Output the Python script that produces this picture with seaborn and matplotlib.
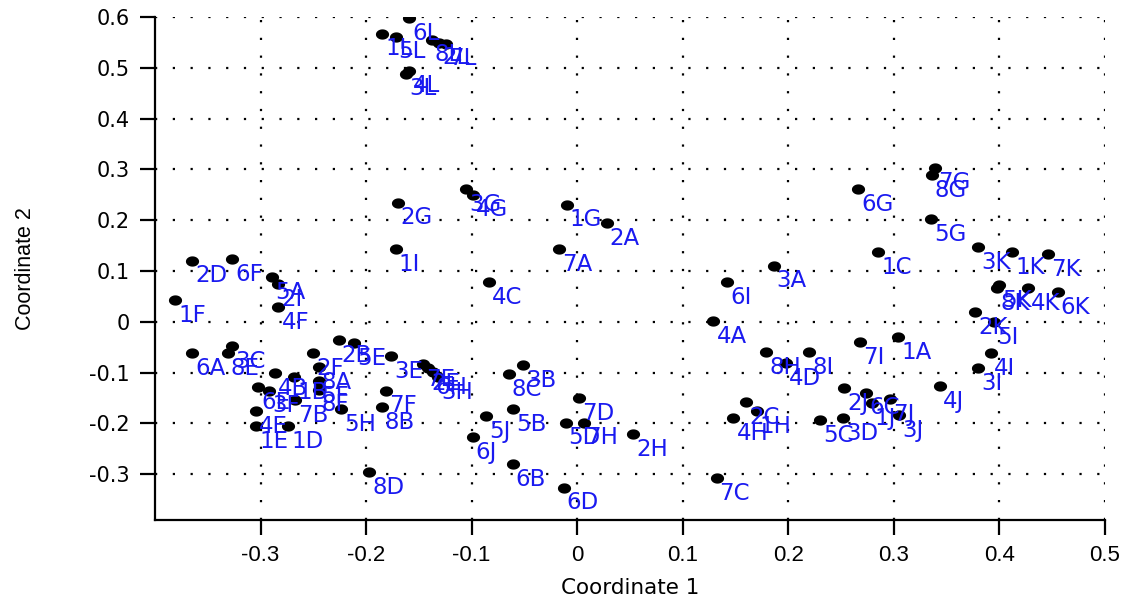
import matplotlib
matplotlib.use("Agg")
import matplotlib.pyplot as plt
import numpy as np
import pandas as pd
import seaborn as sns
from matplotlib.path import Path

# ---------------- data ----------------
labels = ["6L", "1L", "5L", "8L", "2L", "7L", "3L", "4L",
          "2G", "1I", "3G", "4G", "1G", "2A", "7A", "4C",
          "2D", "6F", "5A", "2I", "4F", "1F",
          "6A", "3C", "8E", "2B", "5E", "2F", "3E", "8A",
          "4B", "1B", "5F", "6E", "3F", "8F", "7B", "5H",
          "4E", "1E", "1D", "7F", "8B", "8D",
          "7E", "2E", "6H", "3H", "8C", "3B", "5J", "5B",
          "6J", "6B", "6D", "7D", "5D", "7H", "2H",
          "6G", "1C", "3A", "6I", "4A", "8H", "8I", "4D",
          "7I", "1A", "2C", "1H", "4H", "5C", "3D", "2J",
          "6C", "1J", "7J", "3J", "4J", "7C",
          "7G", "8G", "5G", "3K", "1K", "7K", "5K", "8K",
          "4K", "6K", "2K", "5I", "4I", "3I"]
coord1 = [-0.159, -0.185, -0.172, -0.138, -0.131, -0.124, -0.162, -0.159,
          -0.170, -0.172, -0.105, -0.099, -0.010, 0.028, -0.017, -0.084,
          -0.365, -0.327, -0.289, -0.283, -0.283, -0.381,
          -0.365, -0.327, -0.331, -0.226, -0.211, -0.250, -0.176, -0.245,
          -0.286, -0.268, -0.245, -0.302, -0.292, -0.245, -0.267, -0.224,
          -0.304, -0.304, -0.274, -0.181, -0.185, -0.197,
          -0.146, -0.141, -0.137, -0.132, -0.065, -0.051, -0.086, -0.061,
          -0.099, -0.061, -0.013, 0.002, -0.011, 0.006, 0.053,
          0.266, 0.285, 0.186, 0.142, 0.129, 0.179, 0.220, 0.198,
          0.268, 0.304, 0.160, 0.170, 0.148, 0.230, 0.252, 0.253,
          0.274, 0.279, 0.296, 0.305, 0.344, 0.132,
          0.339, 0.336, 0.335, 0.380, 0.412, 0.446, 0.400, 0.398,
          0.427, 0.455, 0.377, 0.395, 0.392, 0.380]
coord2 = [0.598, 0.567, 0.561, 0.555, 0.549, 0.547, 0.488, 0.494,
          0.234, 0.143, 0.261, 0.250, 0.230, 0.194, 0.143, 0.078,
          0.120, 0.123, 0.088, 0.074, 0.029, 0.043,
          -0.062, -0.048, -0.062, -0.036, -0.042, -0.062, -0.068, -0.089,
          -0.101, -0.109, -0.117, -0.129, -0.136, -0.134, -0.154, -0.172,
          -0.176, -0.205, -0.205, -0.136, -0.168, -0.296,
          -0.083, -0.091, -0.099, -0.109, -0.103, -0.085, -0.186, -0.172,
          -0.227, -0.280, -0.327, -0.150, -0.199, -0.199, -0.221,
          0.261, 0.137, 0.110, 0.078, 0.001, -0.060, -0.060, -0.081,
          -0.040, -0.030, -0.158, -0.176, -0.190, -0.194, -0.190, -0.131,
          -0.140, -0.160, -0.152, -0.184, -0.127, -0.308,
          0.303, 0.289, 0.202, 0.147, 0.137, 0.133, 0.072, 0.066,
          0.066, 0.058, 0.019, -0.001, -0.062, -0.091]

x_ticks = [-0.3, -0.2, -0.1, 0.0, 0.1, 0.2, 0.3, 0.4, 0.5]
x_tick_labels = ["-0.3", "-0.2", "-0.1", "0", "0.1", "0.2", "0.3", "0.4", "0.5"]
y_ticks = [-0.3, -0.2, -0.1, 0.0, 0.1, 0.2, 0.3, 0.4, 0.5, 0.6]
y_tick_labels = ["-0.3", "-0.2", "-0.1", "0", "0.1", "0.2", "0.3", "0.4", "0.5", "0.6"]
x_title = "Coordinate 1"
y_title = "Coordinate 2"

df = pd.DataFrame({"label": labels, "c1": coord1, "c2": coord2})

# ---------------- style ----------------
sns.set_theme(style="white")
plt.rcParams["font.family"] = ["Liberation Sans", "DejaVu Sans"]

fig = plt.figure(figsize=(11.26, 6.07), dpi=100)
ax = fig.add_axes([155 / 1126, 1 - 520 / 607, 950 / 1126, 503 / 607])

# slightly flattened dot marker
t = np.linspace(0, 2 * np.pi, 40)
dot = Path(np.column_stack([np.cos(t), 0.78 * np.sin(t)]), closed=True)

sns.scatterplot(data=df, x="c1", y="c2", ax=ax, color="black",
                marker=dot, s=90, linewidth=0, edgecolor="black", zorder=3)

for lab, xv, yv in zip(df["label"], df["c1"], df["c2"]):
    ax.annotate(lab, (xv, yv), xytext=(3, -15), textcoords="offset pixels",
                ha="left", va="center", color="#1a1af0", fontsize=16.5,
                family="DejaVu Sans", zorder=4)

ax.set_xlim(-0.4, 0.5)
ax.set_ylim(-0.39, 0.6)
ax.set_xticks(x_ticks)
ax.set_xticklabels(x_tick_labels, family="Liberation Sans", fontsize=16)
ax.set_yticks(y_ticks)
ax.set_yticklabels(y_tick_labels, family="DejaVu Sans", fontsize=15)

ax.grid(True, color="black", linestyle=(0, (1, 7)), linewidth=1.6)
ax.set_axisbelow(True)

for side in ["top", "right"]:
    ax.spines[side].set_visible(False)
for side in ["left", "bottom"]:
    ax.spines[side].set_color("black")
    ax.spines[side].set_linewidth(1.6)

ax.tick_params(axis="both", direction="out", length=11, width=1.6,
               color="black", labelcolor="black", left=True, bottom=True)
ax.tick_params(axis="y", pad=7)
ax.tick_params(axis="x", pad=7)

ax.set_xlabel(x_title, family="DejaVu Sans", fontsize=15.5, color="black")
ax.set_ylabel(y_title, family="Liberation Sans", fontsize=15.5, color="black")
ax.xaxis.set_label_coords(0.5, -0.115)
ax.yaxis.set_label_coords(-0.125, 0.5)

fig.savefig("out.png", dpi=100)
